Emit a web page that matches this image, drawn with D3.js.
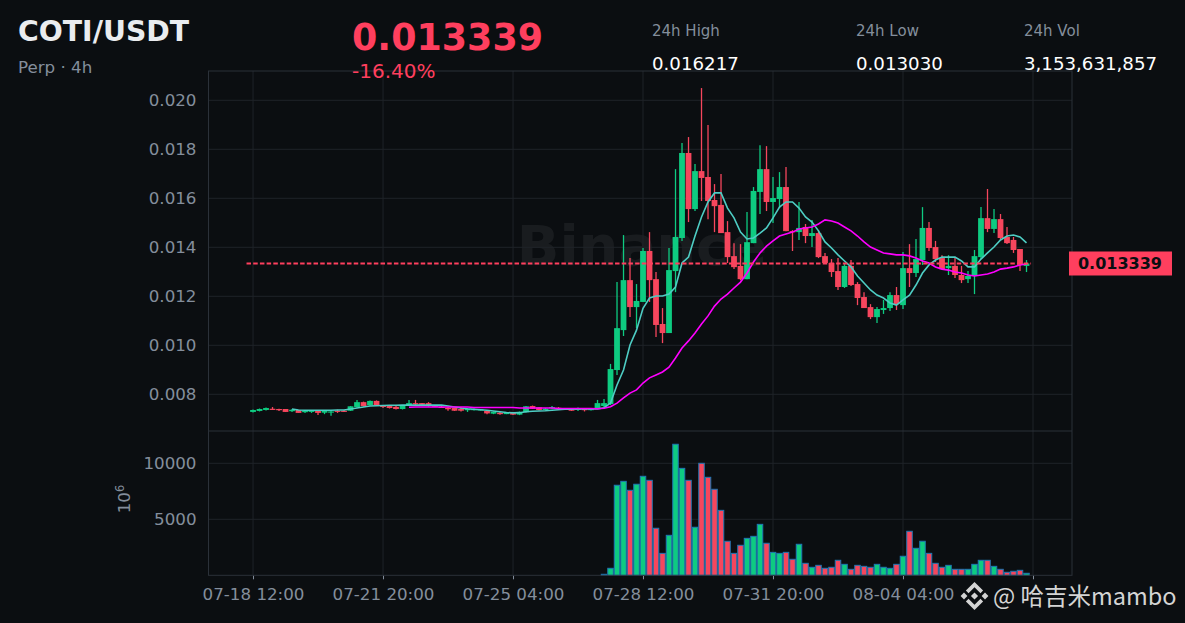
<!DOCTYPE html>
<html>
<head>
<meta charset="utf-8">
<script src="https://cdn.jsdelivr.net/npm/d3@7"></script>
<style>
  html, body { margin: 0; padding: 0; background: #0b0e11; }
  svg { display: block; font-family: "DejaVu Sans", sans-serif; }
</style>
</head>
<body>
<svg id="chart" width="1185" height="623"></svg>
<script>
const opens = [0.00728,0.00732,0.00736,0.00741,0.0074,0.0074,0.00731,0.00736,0.00727,0.00728,
  0.00732,0.00725,0.00728,0.00733,0.00733,0.00733,0.00748,0.00768,0.00756,0.00773,
  0.00753,0.00752,0.00749,0.0074,0.00753,0.00764,0.00764,0.00764,0.00755,0.00749,
  0.00745,0.00744,0.0074,0.00735,0.00737,0.00736,0.00732,0.00721,0.00725,0.00721,
  0.00724,0.00717,0.00727,0.00752,0.00747,0.00736,0.00743,0.00745,0.00737,0.00739,
  0.00736,0.0074,0.00736,0.00744,0.00752,0.0076,0.00899,0.01062,0.01266,0.01156,
  0.01177,0.01385,0.0127,0.01087,0.0105,0.01303,0.01438,0.01785,0.01556,0.01711,
  0.01687,0.01593,0.01573,0.01462,0.01364,0.01324,0.0127,0.01417,0.01626,0.01719,
  0.01585,0.01597,0.01646,0.01466,0.01462,0.01483,0.01446,0.01458,0.01364,0.01336,
  0.01303,0.01238,0.01324,0.0125,0.01197,0.01156,0.01115,0.01144,0.01152,0.01205,
  0.01164,0.01315,0.01295,0.01348,0.01479,0.01401,0.01356,0.01315,0.01324,0.01287,
  0.0127,0.01283,0.0136,0.01519,0.01475,0.01515,0.01442,0.0143,0.01393,0.01324];
const closes = [0.00736,0.0074,0.00744,0.00737,0.00736,0.00728,0.00737,0.00724,0.00733,0.00734,
  0.00724,0.00732,0.0073,0.00731,0.00731,0.00751,0.00768,0.00752,0.00773,0.00756,
  0.00748,0.00744,0.0074,0.00753,0.00764,0.00759,0.00757,0.00752,0.00749,0.00745,
  0.00739,0.00733,0.00733,0.0074,0.0074,0.00739,0.00722,0.00728,0.00719,0.00724,
  0.00717,0.00728,0.00751,0.00741,0.00736,0.00741,0.00748,0.00739,0.00743,0.00733,
  0.00741,0.00735,0.0074,0.00764,0.00764,0.00903,0.0107,0.01266,0.01156,0.01181,
  0.01385,0.01266,0.01083,0.0105,0.01307,0.01442,0.01785,0.01556,0.01711,0.01683,
  0.01589,0.01568,0.01458,0.0136,0.01319,0.0127,0.01421,0.0163,0.01719,0.01585,
  0.01601,0.01646,0.01466,0.01462,0.01479,0.01446,0.01458,0.0136,0.01336,0.01299,
  0.01238,0.01324,0.01246,0.01193,0.01152,0.01115,0.01148,0.01152,0.01205,0.01168,
  0.01315,0.01295,0.01352,0.01479,0.01397,0.01352,0.01311,0.01324,0.01287,0.01266,
  0.01283,0.01364,0.01519,0.01475,0.01515,0.01438,0.01417,0.01389,0.01328,0.01334];
const highs = [0.00738,0.00742,0.00746,0.00748,0.00741,0.0074,0.0074,0.00736,0.00736,0.00736,
  0.00734,0.00734,0.00732,0.00737,0.00736,0.00752,0.00777,0.0077,0.00775,0.00775,
  0.00756,0.00754,0.00752,0.00756,0.00777,0.00777,0.00764,0.00768,0.00756,0.00752,
  0.00748,0.00744,0.00748,0.00742,0.00742,0.0074,0.00734,0.0073,0.00728,0.00726,
  0.00726,0.0073,0.00752,0.00754,0.00748,0.00744,0.00752,0.00748,0.00744,0.00742,
  0.00746,0.00742,0.00742,0.00777,0.00781,0.00924,0.01258,0.0145,0.01356,0.0125,
  0.01397,0.01462,0.01299,0.01152,0.01397,0.01719,0.01826,0.0185,0.0174,0.0205,
  0.01899,0.01658,0.01699,0.01507,0.01417,0.01413,0.01544,0.01646,0.01817,0.01813,
  0.01687,0.01707,0.01728,0.0147,0.01585,0.01495,0.01511,0.0147,0.01377,0.01352,
  0.01356,0.01336,0.01348,0.01258,0.01217,0.01168,0.01156,0.01185,0.01217,0.01238,
  0.01381,0.01413,0.01434,0.01564,0.01503,0.01426,0.01368,0.01368,0.0136,0.01324,
  0.01303,0.01389,0.01564,0.01638,0.01556,0.01536,0.01483,0.01442,0.01393,0.01348];
const lows = [0.00726,0.0073,0.00734,0.00736,0.00732,0.00728,0.00728,0.00724,0.00724,0.00724,
  0.00715,0.00719,0.00712,0.00724,0.00728,0.00732,0.00746,0.0075,0.00754,0.00754,
  0.00744,0.00742,0.00738,0.00738,0.00752,0.00756,0.00756,0.0075,0.00748,0.00744,
  0.00733,0.00732,0.0073,0.00728,0.00734,0.00734,0.00719,0.00719,0.00717,0.00719,
  0.00715,0.00715,0.00726,0.0074,0.00734,0.00734,0.0074,0.00736,0.00736,0.00732,
  0.00732,0.0073,0.00734,0.00742,0.00748,0.00756,0.00879,0.01038,0.01115,0.0107,
  0.01177,0.01177,0.01034,0.01009,0.0105,0.01217,0.01426,0.01503,0.01548,0.01589,
  0.01515,0.01462,0.01458,0.01336,0.01311,0.01266,0.0127,0.01417,0.01536,0.01548,
  0.01499,0.0156,0.01466,0.01385,0.0143,0.01417,0.01401,0.01356,0.01332,0.01279,
  0.01226,0.01234,0.01242,0.01164,0.01152,0.01107,0.01091,0.01128,0.0114,0.01144,
  0.01148,0.01238,0.01279,0.01328,0.01385,0.0134,0.01311,0.01287,0.01275,0.01254,
  0.01254,0.01209,0.01352,0.01462,0.01458,0.0143,0.01413,0.01377,0.01303,0.01299];

// volume in millions, first 54 candles are too small to see
const volume = [0,0,0,0,0,0,0,0,0,0,0,0,0,0,0,0,0,0,0,0,0,0,0,0,0,0,0,
  0,0,0,0,0,0,0,0,0,0,0,0,0,0,0,0,0,0,0,0,0,0,0,0,0,0,0,
  90,625,8040,8390,7590,8130,8840,8480,4200,1960,3570,11700,9550,8480,4290,10000,
  8750,7680,5800,3040,1960,2680,3300,3480,4550,2860,2050,1960,2050,1430,2770,1070,
  715,890,625,715,1340,980,535,890,800,715,980,715,625,980,1700,3930,2410,3040,
  1960,1070,715,890,535,535,535,980,1340,1340,800,535,270,360,445,180];

// ma7 starts at candle 6, ma25 at candle 24
const ma7 = [0.0074,0.00736,0.00735,0.00735,0.00735,0.00735,0.00735,0.00736,0.00736,0.0074,
  0.00744,0.00748,0.00752,0.00753,0.00754,0.00755,0.00755,0.00756,0.00756,0.00756,
  0.00756,0.00756,0.00756,0.00756,0.00752,0.00748,0.00744,0.00741,0.00739,0.00737,
  0.00735,0.00732,0.00729,0.00726,0.00724,0.00725,0.00729,0.00731,0.00732,0.00733,
  0.00735,0.00737,0.00739,0.00739,0.0074,0.0074,0.0074,0.0074,0.00745,0.00764,
  0.00838,0.00899,0.01001,0.01062,0.01151,0.01193,0.01201,0.01201,0.01209,0.01238,
  0.01336,0.0136,0.01446,0.01524,0.01585,0.01622,0.01622,0.0156,0.0152,0.01462,
  0.01434,0.01438,0.01458,0.01479,0.0152,0.01564,0.01585,0.01585,0.0156,0.01524,
  0.01503,0.01467,0.01422,0.01397,0.01369,0.01344,0.0132,0.01283,0.01254,0.01226,
  0.01205,0.01193,0.01173,0.01164,0.01185,0.01205,0.01246,0.01295,0.01328,0.01348,
  0.0136,0.0136,0.0136,0.01344,0.0132,0.0132,0.01352,0.01377,0.01401,0.0143,
  0.01446,0.0145,0.01442,0.01418];
const ma25 = [0.00747,0.00748,0.00748,0.00748,0.00748,0.00748,0.00748,0.00748,0.00748,0.00748,
  0.00746,0.00746,0.00746,0.00746,0.00746,0.00746,0.00746,0.00744,0.00744,0.00744,
  0.00744,0.00744,0.00744,0.00742,0.00742,0.00742,0.00742,0.00742,0.00742,0.00741,
  0.00743,0.00749,0.00764,0.00785,0.00805,0.00818,0.00846,0.00867,0.00879,0.00891,
  0.00911,0.00948,0.00989,0.01018,0.0105,0.01087,0.0112,0.0116,0.01189,0.01209,
  0.01234,0.01258,0.01295,0.0134,0.01377,0.01405,0.01426,0.01446,0.01454,0.01462,
  0.01475,0.01479,0.01483,0.01495,0.01512,0.01507,0.01499,0.01483,0.01467,0.01446,
  0.01422,0.01401,0.01389,0.01377,0.01373,0.01369,0.01369,0.01365,0.01356,0.01344,
  0.01336,0.0132,0.01311,0.01307,0.01299,0.01295,0.01287,0.01283,0.01287,0.01291,
  0.01299,0.01311,0.01315,0.0132,0.01328,0.01332];
const ma7Start = 6;
const ma25Start = 24;

const lastPrice = 0.013339;
const xTickIndex = [0, 20, 40, 60, 80, 100, 120];
const xTickLabels = ["07-18 12:00", "07-21 20:00", "07-25 04:00", "07-28 12:00", "07-31 20:00", "08-04 04:00", ""];
const priceTicks = [0.008, 0.01, 0.012, 0.014, 0.016, 0.018, 0.02];
const volumeTicks = [5000, 10000];
const statLabels = ["24h High", "24h Low", "24h Vol"];
const statValues = ["0.016217", "0.013030", "3,153,631,857"];

const bg = "#0b0e11";
const green = "#0ecb81";
const red = "#f6465d";
const priceRed = "#ff3f5e";
const muted = "#848e9c";
const gridColor = "#1e2329";
const spineColor = "#2b3139";

const svg = d3.select("#chart");
const plotLeft = 208.5, plotRight = 1072, plotTop = 71, plotSplit = 431, plotBottom = 575.3;

const x = d3.scaleLinear().domain([-6.85, 126]).range([plotLeft, plotRight]);
const y = d3.scaleLinear().domain([0.006502, 0.021196]).range([plotSplit, plotTop]);
const yVol = d3.scaleLinear().domain([0, 12884]).range([plotBottom, plotSplit]);

svg.append("rect").attr("width", 1185).attr("height", 623).attr("fill", bg);

// watermark sits under everything
svg.append("text")
  .attr("x", 642).attr("y", 265)
  .attr("text-anchor", "middle")
  .attr("font-size", 56).attr("font-weight", "bold")
  .attr("fill", "#ffffff").attr("fill-opacity", 0.06)
  .text("Binance");

// grid
const grid = svg.append("g").attr("stroke", gridColor).attr("stroke-width", 1);
xTickIndex.forEach((d) => {
  grid.append("line").attr("x1", x(d)).attr("x2", x(d)).attr("y1", plotTop).attr("y2", plotBottom);
});
priceTicks.forEach((d) => {
  grid.append("line").attr("x1", plotLeft).attr("x2", plotRight).attr("y1", y(d)).attr("y2", y(d));
});
volumeTicks.forEach((d) => {
  grid.append("line").attr("x1", plotLeft).attr("x2", plotRight).attr("y1", yVol(d)).attr("y2", yVol(d));
});

// axes
const priceAxis = svg.append("g")
  .attr("transform", `translate(${plotLeft},0)`)
  .call(d3.axisLeft(y).tickValues(priceTicks).tickFormat(d3.format(".3f")).tickSize(0).tickPadding(12));
const volAxis = svg.append("g")
  .attr("transform", `translate(${plotLeft},0)`)
  .call(d3.axisLeft(yVol).tickValues(volumeTicks).tickFormat((d) => d).tickSize(0).tickPadding(12));
const timeAxis = svg.append("g")
  .attr("transform", `translate(0,${plotBottom})`)
  .call(d3.axisBottom(x).tickValues(xTickIndex).tickFormat((d, i) => xTickLabels[i]).tickSize(4).tickPadding(9));
[priceAxis, volAxis, timeAxis].forEach((a) => {
  a.select(".domain").remove();
  a.selectAll("text").attr("fill", muted).attr("font-size", 16.7).attr("font-family", "DejaVu Sans");
  a.selectAll("line").attr("stroke", muted);
});

// candles
const idx = d3.range(closes.length);
const candleColor = (i) => (closes[i] >= opens[i] ? green : red);
const candles = svg.append("g");
candles.selectAll("line")
  .data(idx)
  .enter()
  .append("line")
  .attr("x1", (i) => x(i)).attr("x2", (i) => x(i))
  .attr("y1", (i) => y(highs[i])).attr("y2", (i) => y(lows[i]))
  .attr("stroke", candleColor)
  .attr("stroke-width", 1.3);
candles.selectAll("rect")
  .data(idx)
  .enter()
  .append("rect")
  .attr("x", (i) => x(i) - 2.9)
  .attr("width", 5.8)
  .attr("y", (i) => y(Math.max(opens[i], closes[i])))
  .attr("height", (i) => Math.max(1.2, Math.abs(y(opens[i]) - y(closes[i]))))
  .attr("fill", candleColor);

// moving averages
const maLine = (start) => d3.line().x((d, i) => x(i + start)).y((d) => y(d));
svg.append("path")
  .datum(ma7)
  .attr("fill", "none").attr("stroke", "#4ecdc4").attr("stroke-width", 1.6)
  .attr("d", maLine(ma7Start));
svg.append("path")
  .datum(ma25)
  .attr("fill", "none").attr("stroke", "#ff00ff").attr("stroke-width", 1.6)
  .attr("d", maLine(ma25Start));

// last price line
svg.append("line")
  .attr("x1", x(-1)).attr("x2", x(119.7))
  .attr("y1", y(lastPrice)).attr("y2", y(lastPrice))
  .attr("stroke", priceRed).attr("stroke-width", 2)
  .attr("stroke-dasharray", "4.5,2.2");

// volume bars
svg.append("g").selectAll("rect")
  .data(idx.filter((i) => volume[i] > 0))
  .enter()
  .append("rect")
  .attr("x", (i) => x(i) - 2.75)
  .attr("width", 5.5)
  .attr("y", (i) => yVol(volume[i]))
  .attr("height", (i) => yVol(0) - yVol(volume[i]))
  .attr("fill", candleColor)
  .attr("stroke", "#1f77b4")
  .attr("stroke-width", 1);

// panel frame
const frame = svg.append("g").attr("stroke", spineColor).attr("stroke-width", 1).attr("fill", "none");
frame.append("rect").attr("x", plotLeft).attr("y", plotTop).attr("width", plotRight - plotLeft).attr("height", plotBottom - plotTop);
frame.append("line").attr("x1", plotLeft).attr("x2", plotRight).attr("y1", plotSplit).attr("y2", plotSplit);

// last price tag goes over the frame
svg.append("rect")
  .attr("x", 1069).attr("y", y(lastPrice) - 12)
  .attr("width", 103).attr("height", 24)
  .attr("fill", priceRed);
svg.append("text")
  .attr("x", 1120).attr("y", y(lastPrice) + 5.5)
  .attr("text-anchor", "middle")
  .attr("font-size", 16).attr("font-weight", "bold")
  .attr("fill", bg)
  .text(d3.format(".6f")(lastPrice));

// volume scale label
const volLabel = svg.append("text")
  .attr("transform", "translate(130,499) rotate(-90)")
  .attr("text-anchor", "middle")
  .attr("font-size", 16.7)
  .attr("fill", muted);
volLabel.append("tspan").text("10");
volLabel.append("tspan").attr("font-size", 11.5).attr("dy", -6).text("6");

// header
svg.append("text").attr("x", 18).attr("y", 41)
  .attr("font-size", 28.3).attr("font-weight", "bold").attr("fill", "#eaecef").text("COTI/USDT");
svg.append("text").attr("x", 18).attr("y", 73)
  .attr("font-size", 16.7).attr("fill", muted).text("Perp · 4h");
svg.append("text").attr("x", 352).attr("y", 50)
  .attr("font-size", 36.4).attr("font-weight", "bold").attr("fill", priceRed).text("0.013339");
svg.append("text").attr("x", 352).attr("y", 77.5)
  .attr("font-size", 20).attr("fill", priceRed).text("-16.40%");

const statX = [652, 856, 1024];
statLabels.forEach((d, i) => {
  svg.append("text").attr("x", statX[i]).attr("y", 36)
    .attr("font-size", 15).attr("fill", muted).text(d);
  svg.append("text").attr("x", statX[i]).attr("y", 69.5)
    .attr("font-size", 18.2).attr("fill", "#ffffff").text(statValues[i]);
});

// footer mark
const mark = svg.append("g").attr("transform", "translate(974.5,596)").attr("fill", "#d4d4d4");
const diamond = (cx, cy, r) => `M${cx},${cy - r}L${cx + r},${cy}L${cx},${cy + r}L${cx - r},${cy}Z`;
mark.append("path").attr("d", diamond(0, 0, 3.6));
mark.append("path").attr("d", diamond(-10.5, 0, 3.4));
mark.append("path").attr("d", diamond(10.5, 0, 3.4));
mark.append("path").attr("d", "M0,-14L8.6,-5.4L6,-2.8L0,-8.8L-6,-2.8L-8.6,-5.4Z");
mark.append("path").attr("d", "M0,14L8.6,5.4L6,2.8L0,8.8L-6,2.8L-8.6,5.4Z");
svg.append("text").attr("x", 993).attr("y", 605)
  .attr("font-family", "Noto Sans CJK SC")
  .attr("font-size", 23.5).attr("fill", "#d4d4d4")
  .text("@ 哈吉米mambo");
</script>
</body>
</html>
